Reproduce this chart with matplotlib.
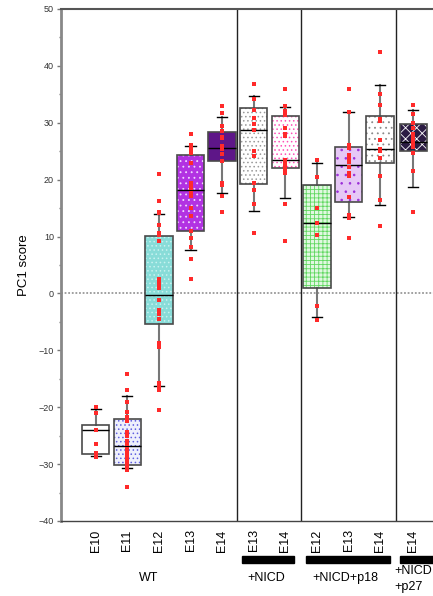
import matplotlib
matplotlib.use("Agg")
import matplotlib.pyplot as plt
import matplotlib.transforms as mtransforms
from matplotlib.patches import Rectangle, PathPatch

plt.rcParams['font.family'] = ['Liberation Sans', 'DejaVu Sans']
plt.rcParams['hatch.linewidth'] = 0.6

# ---------------- data ----------------
labels = ["E10", "E11", "E12", "E13", "E14", "E13", "E14", "E12", "E13", "E14", "E14"]
positions = [1, 2, 3, 4, 5, 6, 7, 8, 9, 10, 11.05]

q1 =      [-28.2, -30.1, -5.4, 10.9, 23.2, 19.2, 22.0, 0.95, 16.1, 22.9, 25.0]
median =  [-24.0, -26.8, -0.2, 18.2, 25.6, 28.7, 23.4, 12.4, 22.6, 25.4, 26.6]
q3 =      [-23.1, -22.1, 10.1, 24.4, 28.4, 32.6, 31.2, 19.0, 25.7, 31.2, 29.7]
whis_lo = [-28.6, -30.7, -16.2, 7.6, 17.7, 14.5, 16.8, -4.1, 13.4, 15.5, 18.7]
whis_hi = [-20.4, -18.0, 13.9, 25.9, 31.1, 34.7, 32.8, 22.9, 31.9, 36.6, 32.2]

pts_wt_e10 = [-20.0, -21.0, -24.0, -26.5, -28.1, -28.5, -28.8]
pts_wt_e11 = [-14.2, -17.0, -19.1, -20.8, -21.8, -22.5, -24.4, -25.1, -25.9, -26.5,
              -27.4, -28.1, -28.7, -29.5, -30.1, -30.6, -31.0, -34.1]
pts_wt_e12 = [21.0, 16.2, 14.3, 14.1, 12.0, 10.7, 10.3, 9.2, 2.5, 1.9, 1.4, 0.95,
              -1.2, -2.9, -3.7, -4.5, -8.7, -9.5, -15.8, -16.2, -16.9, -20.5]
pts_wt_e13 = [28.1, 26.1, 25.4, 24.6, 23.0, 19.5, 19.0, 18.5, 17.7, 17.2, 15.0,
              13.6, 11.0, 9.7, 8.2, 6.0, 2.5]
pts_wt_e14 = [33.0, 31.7, 29.4, 28.5, 27.5, 27.3, 26.0, 25.4, 24.5, 23.2, 19.4,
              19.0, 17.2, 14.4]
pts_nicd_e13 = [36.8, 34.2, 32.2, 30.8, 29.8, 28.7, 25.1, 24.2, 19.4, 18.2, 15.7, 10.6]
pts_nicd_e14 = [35.9, 32.9, 32.0, 31.3, 29.1, 28.0, 27.7, 23.5, 22.9, 22.3, 21.7,
                21.2, 15.7, 9.3]
pts_p18_e12 = [23.4, 20.4, 15.0, 12.3, 10.3, -2.2, -4.6]
pts_p18_e13 = [35.9, 31.9, 26.1, 25.6, 24.3, 23.8, 23.1, 22.3, 21.1, 20.6, 16.9,
               13.8, 13.3, 9.8]
pts_p18_e14 = [42.4, 35.0, 33.2, 30.7, 30.4, 27.0, 25.4, 25.1, 23.8, 20.6, 16.4, 11.9]
pts_p27_e14 = [33.1, 31.5, 30.0, 29.0, 28.1, 27.5, 27.0, 26.5, 25.8, 24.7, 21.5, 14.4]

points = [pts_wt_e10, pts_wt_e11, pts_wt_e12, pts_wt_e13, pts_wt_e14,
          pts_nicd_e13, pts_nicd_e14, pts_p18_e12, pts_p18_e13, pts_p18_e14,
          pts_p27_e14]

group_names = ["WT", "+NICD", "+NICD+p18", "+NICD\n+p27"]

# ---------------- styles ----------------
faces = ["white", "#eef0fc", "#88dcd8", "#b232e2", "#5e1688",
         "white", "white", "#e0f8e0", "#e6c8f6", "white", "#2c1c44"]
hatches = [None, "....", "....", "...", None,
           "....", "....", "++++", "..", "...", "xxx"]
hatch_cols = ["white", "#6060e0", "#c8f2f0", "#f0d8ff", "#5e1688",
              "#9a9a9a", "#ff50b8", "#60d860", "#9a2cd8", "#8a8a8a", "white"]

fig = plt.figure(figsize=(4.33, 5.96), dpi=100)
ax = fig.add_axes([61/433, 1-521/596, 1-61/433, (521-9)/596])

stats = []
for i in range(len(labels)):
    stats.append(dict(med=median[i], q1=q1[i], q3=q3[i],
                      whislo=whis_lo[i], whishi=whis_hi[i], label=labels[i]))

bp = ax.bxp(stats, positions=positions, widths=0.87, capwidths=0.32,
            showfliers=False, patch_artist=True,
            whiskerprops=dict(color="#777777", lw=1.5),
            capprops=dict(color="black", lw=1.0),
            medianprops=dict(color="black", lw=1.0),
            boxprops=dict(lw=0))

for i, box in enumerate(bp['boxes']):
    box.set_facecolor(faces[i])
    box.set_edgecolor(hatch_cols[i])
    box.set_linewidth(0)
    if hatches[i]:
        box.set_hatch(hatches[i])
    box.set_zorder(2)
    outline = PathPatch(box.get_path(), fill=False, edgecolor="#4a4a4a",
                        lw=1.2, transform=box.get_transform(), zorder=2.5)
    ax.add_patch(outline)
for m in bp['medians']:
    m.set_zorder(3)

for i, pts in enumerate(points):
    ax.scatter([positions[i]] * len(pts), pts, marker='s', s=5,
               color="#ff2a2a", linewidths=0, zorder=4)

# zero line
ax.axhline(0, color="#999999", ls=(0, (1, 1)), lw=1.3, zorder=1)

# group separators
for xs in [5.48, 7.5, 10.5]:
    ax.axvline(xs, color="#222222", lw=1.0, zorder=1)

ax.set_xlim(1 - 34.7/31.6, 1 + 337.3/31.6)
ax.set_ylim(-40, 50)
ax.set_yticks(range(-40, 51, 10))
ax.set_yticks(range(-35, 50, 10), minor=True)
ax.tick_params(axis='y', which='major', length=3, width=1, color="#777777",
               labelsize=6.5, labelcolor="#333333", pad=2)
ax.tick_params(axis='y', which='minor', length=1.5, width=1, color="#777777")
ax.set_xticks(positions)
ax.set_xticklabels(labels, rotation=90, fontsize=9, va='top')
ax.tick_params(axis='x', length=0, pad=6)

ax.spines['left'].set_color("#888888")
ax.spines['left'].set_linewidth(2)
ax.spines['top'].set_color("#555555")
ax.spines['top'].set_linewidth(1.5)
ax.spines['bottom'].set_color("#444444")
ax.spines['bottom'].set_linewidth(1)
ax.spines['right'].set_visible(False)

ax.set_ylabel("PC1 score", fontsize=9.5, labelpad=6)

# group bars and labels
trans = mtransforms.blended_transform_factory(ax.transData, fig.transFigure)
bars = [(5.62, 7.28), (7.65, 10.31), (10.63, 12.2)]
for x0, x1 in bars:
    ax.add_patch(Rectangle((x0, 1-562.5/596), x1 - x0, 6.5/596,
                           transform=trans, color="black", clip_on=False))

ax.text(2.66, 1-578/596, group_names[0], transform=trans, ha='center',
        va='center', fontsize=9)
ax.text(6.41, 1-578/596, group_names[1], transform=trans, ha='center',
        va='center', fontsize=9)
ax.text(8.89, 1-578/596, group_names[2], transform=trans, ha='center',
        va='center', fontsize=9)
ax.text(10.44, 1-579/596, group_names[3], transform=trans, ha='left',
        va='center', fontsize=9, linespacing=1.5)

fig.savefig("out.png", dpi=100)
